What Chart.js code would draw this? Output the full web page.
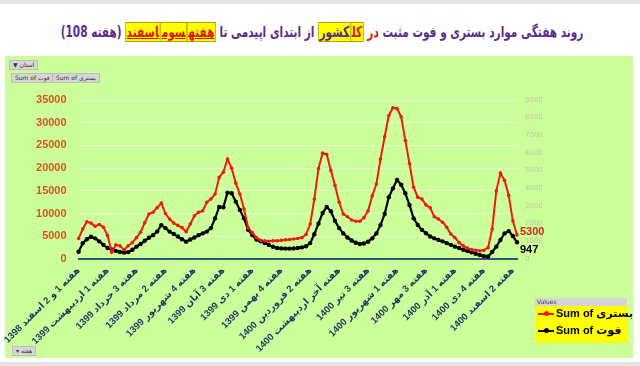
<!DOCTYPE html>
<html>
<head>
<meta charset="utf-8">
<script src="https://cdn.jsdelivr.net/npm/chart.js@4"></script>
<style>
  body { margin: 0; width: 640px; height: 366px; position: relative; overflow: hidden; background: #fff; font-family: "Liberation Sans", "DejaVu Sans", sans-serif; }
  #topband { position: absolute; left: 0; top: 0; width: 640px; height: 4px; background: #e4e4e4; }
  #botband { position: absolute; left: 0; top: 362px; width: 640px; height: 4px; background: #e4e4e4; }
  #panel { position: absolute; left: 5px; top: 56px; width: 628px; height: 302px; background: #ccff99; }
  #titleText { position: absolute; left: 322px; top: 23px; white-space: nowrap; font: bold 15px "DejaVu Sans", sans-serif; color: #5a2d8c; transform-origin: 50% 50%; transform: translateX(-50%); }
  #titleText .red { color: #e3120b; }
  #titleText .hl { background: #ffff00; border: 1px solid #b8a000; padding: 0 1px; }
  #titleText .u { text-decoration: underline; }
  #chart { position: absolute; left: 0; top: 0; }
  .btn { position: absolute; background: #d6d6d6; border: 1px solid #bdbdbd; font: 6px "DejaVu Sans", sans-serif; color: #333; padding: 0 3px; height: 8px; line-height: 8px; white-space: nowrap; }
  #legend { position: absolute; left: 535px; top: 298px; width: 92px; }
  #legend .hdr { background: #d4d4d4; font: 6px "DejaVu Sans", sans-serif; color: #444; height: 8px; line-height: 8px; padding-left: 2px; }
  #legend .box { background: #ffff00; height: 36px; padding-top: 1px; }
  #legend .row { height: 17px; line-height: 17px; font: bold 11px "Liberation Sans", "DejaVu Sans", sans-serif; color: #000; white-space: nowrap; padding-left: 3px; }
  #legend .sw { display: inline-block; width: 16px; height: 2px; position: relative; vertical-align: middle; margin-right: 2px; }
  #legend .sw::after { content: ""; position: absolute; left: 6px; top: -2px; width: 5px; height: 5px; border-radius: 50%; background: inherit; }
</style>
</head>
<body>
<div id="topband"></div>
<div id="botband"></div>
<div id="panel"></div>
<span id="titleText" dir="rtl">روند هفتگی موارد بستری و فوت مثبت <span class="red">در</span> <span class="hl red">کل</span><span class="hl">کشور</span> از ابتدای اپیدمی تا <span class="hl red u">هفته</span><span class="hl red u">سوم</span><span class="hl red u">اسفند</span> (هفته 108)</span>
<div class="btn" style="left:9px; top:60px;">▼ استان</div>
<div class="btn" style="left:11px; top:73px;">Sum of فوت</div>
<div class="btn" style="left:52px; top:73px;">Sum of بستری</div>
<div class="btn" style="left:12px; top:346px;">▾ هفته</div>
<canvas id="chart" width="640" height="366"></canvas>
<div id="legend">
  <div class="hdr">Values</div>
  <div class="box">
    <div class="row"><span class="sw" style="background:#ee1b0f"></span>Sum of بستری</div>
    <div class="row"><span class="sw" style="background:#000"></span>Sum of فوت</div>
  </div>
</div>
<script>
  // squeeze the title to the width it has in the original
  (function () {
    const t = document.getElementById("titleText");
    const w = t.offsetWidth;
    if (w > 0) t.style.transform = "translateX(-50%) scaleX(" + (523 / w) + ")";
  })();

  // months of the pivot axis and how many weekly rows each one has
  const months = [
    ["اسفند 1398", 3], ["فروردین 1399", 4], ["اردیبهشت 1399", 5], ["خرداد 1399", 4],
    ["تیر 1399", 4], ["مرداد 1399", 5], ["شهریور 1399", 4], ["مهر 1399", 4],
    ["آبان 1399", 4], ["آذر 1399", 5], ["دی 1399", 4], ["بهمن 1399", 4],
    ["اسفند 1399", 5], ["فروردین 1400", 4], ["اردیبهشت 1400", 5], ["خرداد 1400", 4],
    ["تیر 1400", 5], ["مرداد 1400", 4], ["شهریور 1400", 5], ["مهر 1400", 5],
    ["آبان 1400", 4], ["آذر 1400", 4], ["دی 1400", 4], ["بهمن 1400", 5], ["اسفند 1400", 3]
  ];

  const weeks = [];
  months.forEach(function (m, mi) {
    for (let w = 1; w <= m[1]; w++) {
      if (mi === 0) {
        weeks.push(w === 1 ? "هفته 1 و 2 " + m[0] : "هفته " + (w + 1) + " " + m[0]);
      } else if (w === 5) {
        weeks.push("هفته آخر " + m[0]);
      } else {
        weeks.push("هفته " + w + " " + m[0]);
      }
    }
  });

  // بستری (left axis)
  const hospital = [
    4500, 6600, 8200, 7900, 7200, 7600, 7000, 5200, 1500, 3100,
    2900, 2000, 2900, 3600, 4700, 5900, 8000, 9900, 10300, 11300,
    12300, 10000, 8800, 7900, 7400, 6900, 6000, 7700, 9500, 10300,
    10600, 12500, 13200, 14300, 18000, 19100, 22000, 20000, 16700, 14300,
    11000, 6900, 5800, 4700, 4100, 4000, 3900, 4000, 4000, 4100,
    4200, 4300, 4400, 4500, 4700, 5400, 7700, 13200, 19900, 23300,
    23000, 19500, 16200, 12500, 9900, 9300, 8600, 8300, 8300, 9100,
    10600, 13900, 16500, 22000, 26900, 31600, 33300, 33100, 31300, 26100,
    21000, 15800, 13600, 13200, 11900, 11300, 9300, 8800, 8100, 7000,
    5500, 4700, 3600, 2900, 2400, 2100, 1900, 1800, 1900, 2500,
    6600, 15000, 18900, 17300, 14000, 8400, 5300
  ];

  // فوت (right axis)
  const deaths = [
    410, 890, 1120, 1260, 1170, 1000, 800, 620, 540, 460,
    400, 370, 390, 520, 700, 850, 1030, 1200, 1350, 1550,
    1920, 1750, 1550, 1420, 1270, 1120, 980, 1100, 1220, 1350,
    1450, 1550, 1750, 2300, 2950, 2930, 3750, 3720, 3250, 2780,
    2300, 1650, 1360, 1100, 1000, 900, 790, 690, 620, 600,
    590, 590, 600, 620, 660, 720, 900, 1400, 2000, 2600,
    2950, 2700, 2150, 1750, 1450, 1220, 1050, 920, 850, 880,
    980, 1170, 1450, 1920, 2550, 3500, 4000, 4470, 4200, 3720,
    3060, 2300, 1930, 1650, 1460, 1270, 1170, 1080, 1000, 900,
    800, 700, 620, 520, 450, 380, 300, 230, 160, 140,
    400, 700, 1075, 1450, 1580, 1300, 947
  ];

  const labelEvery = 7;
  const leftMax = 35000, leftStep = 5000;
  const rightMax = 9000, rightStep = 1000;

  const RED = "#ee1b0f";
  const BLACK = "#000000";

  // last-value labels (5300 / 947)
  const lastValueLabels = {
    id: "lastValueLabels",
    afterDatasetsDraw(chart) {
      const ctx = chart.ctx;
      ctx.save();
      ctx.font = "bold 11px 'Liberation Sans', sans-serif";
      ctx.textAlign = "left";
      ctx.textBaseline = "middle";
      [[0, "#d8231b", -3], [1, BLACK, 8]].forEach(function (d) {
        const meta = chart.getDatasetMeta(d[0]);
        const last = meta.data.length - 1;
        const pt = meta.data[last];
        ctx.fillStyle = d[1];
        ctx.fillText(String(chart.data.datasets[d[0]].data[last]), pt.x + 3, pt.y + d[2]);
      });
      ctx.restore();
    }
  };

  new Chart(document.getElementById("chart"), {
    type: "line",
    data: {
      labels: weeks,
      datasets: [
        {
          label: "Sum of بستری",
          data: hospital,
          yAxisID: "y",
          borderColor: RED,
          backgroundColor: RED,
          borderWidth: 2,
          pointRadius: 1.8,
          pointBorderWidth: 0,
          tension: 0,
        },
        {
          label: "Sum of فوت",
          data: deaths,
          yAxisID: "y1",
          borderColor: BLACK,
          backgroundColor: BLACK,
          borderWidth: 2.2,
          pointRadius: 2.2,
          pointBorderWidth: 0,
          tension: 0,
        },
      ],
    },
    options: {
      responsive: false,
      animation: false,
      layout: { padding: { left: 30, right: 83, top: 100, bottom: 0 } },
      plugins: { legend: { display: false }, tooltip: { enabled: false } },
      scales: {
        x: {
          grid: { display: false, drawTicks: false },
          border: { display: true, color: "#2c5a76", width: 2 },
          ticks: {
            autoSkip: false,
            minRotation: 45,
            maxRotation: 45,
            padding: 6,
            color: "#1f3a62",
            font: { family: "'Liberation Sans', 'DejaVu Sans', sans-serif", size: 9.5, weight: "bold" },
            callback: function (v, i) { return i % labelEvery === 0 ? weeks[i] : ""; },
          },
          afterFit: function (s) { s.height = 107; },
        },
        y: {
          position: "left",
          min: 0,
          max: leftMax,
          grid: { color: "#e4f6d2", lineWidth: 1, drawTicks: false },
          border: { display: false },
          ticks: {
            stepSize: leftStep,
            padding: 12,
            color: "#d9531e",
            font: { family: "'Liberation Sans', sans-serif", size: 11, weight: "bold" },
            callback: function (v) { return String(v); },
          },
          afterFit: function (s) { s.width = 45; },
        },
        y1: {
          position: "right",
          min: 0,
          max: rightMax,
          grid: { display: false, drawTicks: false },
          border: { display: false },
          ticks: {
            stepSize: rightStep,
            padding: 8,
            color: "#b8cca6",
            font: { family: "'DejaVu Sans', sans-serif", size: 7 },
            callback: function (v) { return String(v); },
          },
          afterFit: function (s) { s.width = 40; },
        },
      },
    },
    plugins: [lastValueLabels],
  });
</script>
</body>
</html>
